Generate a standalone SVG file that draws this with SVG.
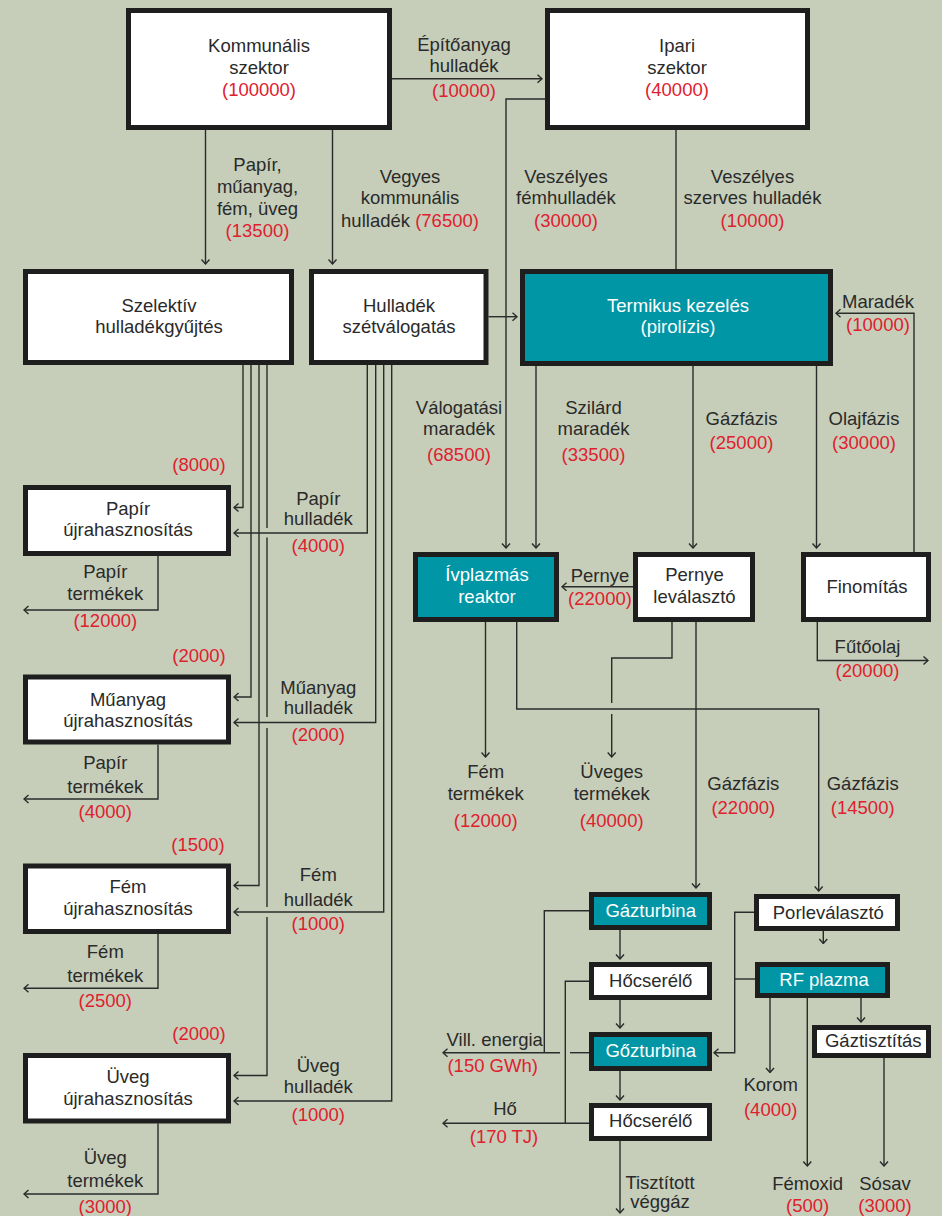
<svg xmlns="http://www.w3.org/2000/svg" width="942" height="1216" viewBox="0 0 942 1216">
<style>
text{font-family:"Liberation Sans",Arial,sans-serif;font-size:18.5px;fill:#2a2a2a;text-anchor:middle}
.r{fill:#e0202e}
.w{fill:#ffffff}
.b{fill:#ffffff;stroke:#1e1e1e;stroke-width:5}
.t{fill:#0096a5;stroke:#1e1e1e;stroke-width:5}
.c path{fill:none;stroke:#2b2b2b;stroke-width:1.4}
.c path.a{marker-end:url(#ah)}
</style>
<defs>
<marker id="ah" viewBox="0 0 10 10" refX="9.3" refY="5" markerWidth="10" markerHeight="10" markerUnits="userSpaceOnUse" orient="auto">
<path d="M4.8,1 L9.3,5 L4.8,9" fill="none" stroke="#2b2b2b" stroke-width="1.4"/>
</marker>
</defs>
<rect width="942" height="1216" fill="#c6ceb9"/>

<g class="c">
<path class="a" d="M205.5,130 V264"/>
<path class="a" d="M332.5,130 V264"/>
<path class="a" d="M392,78.7 H542"/>
<path class="a" d="M545,99 H506 V548"/>
<path d="M676,130 V269"/>
<path class="a" d="M488.5,316.7 H517"/>
<path class="a" d="M536,366 V548"/>
<path class="a" d="M693,366 V548"/>
<path class="a" d="M816.5,366 V548"/>
<path class="a" d="M914,552 V313.3 H836"/>
<path class="a" d="M633,586.7 H562"/>
<path class="a" d="M817.3,622 V660.5 H928"/>
<path class="a" d="M485.5,622 V757"/>
<path class="a" d="M516.7,622 V709 H818.7 V891"/>
<path d="M672,622 V658 H611.7 V703"/>
<path class="a" d="M611.7,714 V757"/>
<path class="a" d="M696,622 V888"/>
<path class="a" d="M620,930 V959"/>
<path class="a" d="M620,1000 V1028"/>
<path class="a" d="M620,1071 V1100"/>
<path class="a" d="M620,1141 V1213"/>
<path d="M589,910.7 H544.3 V1052.7"/>
<path d="M589,1052.7 H570"/>
<path class="a" d="M560,1052.7 H443"/>
<path d="M589,981.3 H565.3 V1123.3"/>
<path class="a" d="M589,1123.3 H443"/>
<path class="a" d="M754,912.3 H734.7 V1052.7 H714"/>
<path d="M755,979 H734.7"/>
<path class="a" d="M823.3,931 V943.5"/>
<path class="a" d="M770,998 V1072.5"/>
<path class="a" d="M807.3,998 V1166"/>
<path class="a" d="M861,998 V1022"/>
<path class="a" d="M884,1058 V1166"/>
<path class="a" d="M243,365 V507.5 H234"/>
<path class="a" d="M251,365 V697 H234"/>
<path class="a" d="M259,365 V885.5 H234"/>
<path d="M267,365 V528 M267,537.5 V717 M267,728 V907"/>
<path class="a" d="M267,917 V1075.5 H234"/>
<path class="a" d="M367.3,365 V533 H234"/>
<path class="a" d="M375.7,365 V722.5 H234"/>
<path class="a" d="M383.7,365 V912 H234"/>
<path class="a" d="M391.7,365 V1101 H234"/>
<path class="a" d="M158,556 V610 H24"/>
<path class="a" d="M158,744.5 V799 H24"/>
<path class="a" d="M158,934 V988.3 H24"/>
<path class="a" d="M158,1123.5 V1194 H24"/>
</g>

<g id="kommunalis"><rect class="b" x="128.5" y="10.5" width="261" height="117"/>
<text x="259" y="52">Kommunális</text><text x="259" y="74">szektor</text><text class="r" x="259" y="96">(100000)</text></g>
<g id="ipari"><rect class="b" x="547.5" y="10.5" width="260" height="117"/>
<text x="677" y="52">Ipari</text><text x="677" y="74">szektor</text><text class="r" x="677" y="96">(40000)</text></g>
<g id="szelektiv"><rect class="b" x="25.5" y="271.5" width="266" height="91"/>
<text x="159" y="311.7">Szelektív</text><text x="159" y="332.7">hulladékgyűjtés</text></g>
<g id="hulladek"><rect class="b" x="311.5" y="271.5" width="174.5" height="91"/>
<text x="399" y="312">Hulladék</text><text x="399" y="333">szétválogatás</text></g>
<g id="termikus"><rect class="t" x="522.5" y="271.5" width="308" height="92"/>
<text class="w" x="678" y="311.7">Termikus kezelés</text><text class="w" x="678" y="333.3">(pirolízis)</text></g>
<g id="papir"><rect class="b" x="25.5" y="487.5" width="203" height="66"/>
<text x="128" y="515">Papír</text><text x="128" y="536">újrahasznosítás</text></g>
<g id="muanyag"><rect class="b" x="25.5" y="677" width="203" height="65"/>
<text x="128" y="706">Műanyag</text><text x="128" y="727">újrahasznosítás</text></g>
<g id="fem"><rect class="b" x="25.5" y="866" width="203" height="65.5"/>
<text x="128" y="892.8">Fém</text><text x="128" y="914.8">újrahasznosítás</text></g>
<g id="uveg"><rect class="b" x="25.5" y="1055.5" width="203" height="65.5"/>
<text x="128" y="1082.7">Üveg</text><text x="128" y="1104.7">újrahasznosítás</text></g>
<g id="ivplazmas"><rect class="t" x="415.5" y="554.5" width="141" height="65"/>
<text class="w" x="487" y="580.7">Ívplazmás</text><text class="w" x="487" y="602.7">reaktor</text></g>
<g id="pernye"><rect class="b" x="635.5" y="554.5" width="117" height="65"/>
<text x="694.5" y="581">Pernye</text><text x="694.5" y="603">leválasztó</text></g>
<g id="finomitas"><rect class="b" x="803.5" y="554.5" width="125" height="65"/>
<text x="867" y="592.7">Finomítás</text></g>
<g id="gazturbina"><rect class="t" x="591.5" y="894.5" width="118" height="33"/>
<text class="w" x="650.7" y="916.7">Gázturbina</text></g>
<g id="hocserelo1"><rect class="b" x="591.5" y="964.5" width="118" height="33"/>
<text x="650.7" y="987.3">Hőcserélő</text></g>
<g id="gozturbina"><rect class="t" x="591.5" y="1034.5" width="118" height="34"/>
<text class="w" x="650.7" y="1057.3">Gőzturbina</text></g>
<g id="hocserelo2"><rect class="b" x="591.5" y="1105.5" width="118" height="33"/>
<text x="650.7" y="1127.3">Hőcserélő</text></g>
<g id="porlevalaszto"><rect class="b" x="756.5" y="896.5" width="141" height="32"/>
<text x="828.3" y="919.3">Porleválasztó</text></g>
<g id="rfplazma"><rect class="t" x="757.5" y="964.5" width="130" height="31"/>
<text class="w" x="824" y="986">RF plazma</text></g>
<g id="gaztisztitas"><rect class="b" x="814.5" y="1027.5" width="114" height="28"/>
<text x="873.3" y="1047.3">Gáztisztítás</text></g>

<g id="labels">
<text x="464" y="51">Építőanyag</text><text x="464" y="72">hulladék</text><text class="r" x="464" y="97">(10000)</text>
<text x="257.5" y="171">Papír,</text><text x="257.5" y="193">műanyag,</text><text x="257.5" y="214.5">fém, üveg</text><text class="r" x="257.5" y="236.5">(13500)</text>
<text x="410" y="182.7">Vegyes</text><text x="410" y="204.3">kommunális</text><text x="410" y="226.5">hulladék <tspan class="r">(76500)</tspan></text>
<text x="566" y="182.7">Veszélyes</text><text x="566" y="204">fémhulladék</text><text class="r" x="566" y="226.5">(30000)</text>
<text x="752.5" y="182.7">Veszélyes</text><text x="752.5" y="204">szerves hulladék</text><text class="r" x="752.5" y="226.5">(10000)</text>
<text x="878" y="308.3">Maradék</text><text class="r" x="878" y="331">(10000)</text>
<text x="459" y="413.5">Válogatási</text><text x="459" y="434.5">maradék</text><text class="r" x="459" y="460.5">(68500)</text>
<text x="593.5" y="413.5">Szilárd</text><text x="593.5" y="434.5">maradék</text><text class="r" x="593.5" y="460.5">(33500)</text>
<text x="741.5" y="425">Gázfázis</text><text class="r" x="741.5" y="449">(25000)</text>
<text x="864" y="425">Olajfázis</text><text class="r" x="864" y="449">(30000)</text>
<text class="r" x="199" y="470.7">(8000)</text>
<text x="318.3" y="505">Papír</text><text x="318.3" y="525">hulladék</text><text class="r" x="318.3" y="552.3">(4000)</text>
<text x="105.3" y="578.3">Papír</text><text x="105.3" y="600">termékek</text><text class="r" x="105.3" y="626.7">(12000)</text>
<text x="600" y="581.7">Pernye</text><text class="r" x="600" y="605">(22000)</text>
<text x="867.5" y="653.3">Fűtőolaj</text><text class="r" x="867.5" y="676.7">(20000)</text>
<text class="r" x="199" y="662">(2000)</text>
<text x="318.3" y="694.4">Műanyag</text><text x="318.3" y="713.5">hulladék</text><text class="r" x="318.3" y="741">(2000)</text>
<text x="105.3" y="768.6">Papír</text><text x="105.3" y="792.5">termékek</text><text class="r" x="105.3" y="818">(4000)</text>
<text x="485.7" y="777.7">Fém</text><text x="485.7" y="800">termékek</text><text class="r" x="485.7" y="827.3">(12000)</text>
<text x="611.7" y="777.7">Üveges</text><text x="611.7" y="800">termékek</text><text class="r" x="611.7" y="827.3">(40000)</text>
<text x="743.3" y="790">Gázfázis</text><text class="r" x="743.3" y="814">(22000)</text>
<text x="862.7" y="790">Gázfázis</text><text class="r" x="862.7" y="814">(14500)</text>
<text class="r" x="198" y="851">(1500)</text>
<text x="318.3" y="881.4">Fém</text><text x="318.3" y="906.3">hulladék</text><text class="r" x="318.3" y="930.2">(1000)</text>
<text x="105.3" y="957.8">Fém</text><text x="105.3" y="982.4">termékek</text><text class="r" x="105.3" y="1007.4">(2500)</text>
<text class="r" x="199" y="1039.7">(2000)</text>
<text x="318.3" y="1071.7">Üveg</text><text x="318.3" y="1093">hulladék</text><text class="r" x="318.3" y="1120.5">(1000)</text>
<text x="105.3" y="1163.5">Üveg</text><text x="105.3" y="1186.7">termékek</text><text class="r" x="105.3" y="1213">(3000)</text>
<text x="494.7" y="1045.7">Vill. energia</text><text class="r" x="492.7" y="1072.3">(150 GWh)</text>
<text x="505" y="1115.3">Hő</text><text class="r" x="504" y="1143.3">(170 TJ)</text>
<text x="660" y="1189.3">Tisztított</text><text x="660" y="1208.3">véggáz</text>
<text x="770.7" y="1090.7">Korom</text><text class="r" x="770.7" y="1116">(4000)</text>
<text x="807.7" y="1190">Fémoxid</text><text class="r" x="807.7" y="1211.7">(500)</text>
<text x="885" y="1190">Sósav</text><text class="r" x="885" y="1211.7">(3000)</text>
</g>
</svg>
